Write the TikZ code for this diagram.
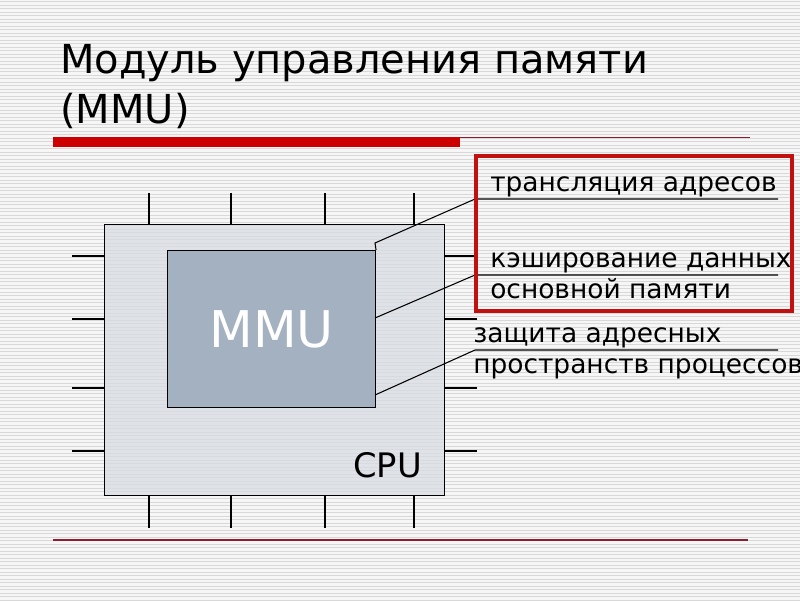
\documentclass[tikz,border=0pt]{standalone}
\usepackage{fontspec}
\setmainfont{DejaVu Sans}
\usetikzlibrary{positioning}

\definecolor{barred}{RGB}{204,0,0}
\definecolor{boxred}{RGB}{192,16,16}
\definecolor{rulered}{RGB}{140,30,50}
\definecolor{stripe}{RGB}{216,216,216}
\definecolor{paper}{RGB}{246,246,246}
\definecolor{cpufill}{RGB}{216,220,227}
\definecolor{mmufill}{RGB}{163,177,192}

\begin{document}
\begin{tikzpicture}[
    x=0.025cm, y=-0.025cm,
    chip/.style={draw, line width=0.7pt, fill=cpufill, fill opacity=0.75, text opacity=1},
    mmubox/.style={draw, line width=0.7pt, fill=mmufill},
    pin/.style={line width=1.4pt},
    callout/.style={line width=0.75pt},
    label/.style={font=\fontsize{18.8}{22}\selectfont, anchor=base west, inner sep=0pt},
    title/.style={font=\fontsize{28.4}{34}\selectfont, anchor=base west, inner sep=0pt}
]
\useasboundingbox (0,0) rectangle (800,600);
\fill[paper] (0,0) rectangle (800,600);
\foreach \i in {0,...,171}
    \draw[stripe, line width=0.7pt] (0,\i*3.5+1.5) -- (800,\i*3.5+1.5);

% title and rules
\node[title] (title1) at (60,73) {Модуль управления памяти};
\node[title] (title2) at (60,123) {(MMU)};
\fill[barred] (53,137) rectangle (460,147);
\draw[rulered, line width=0.8pt] (460,137.5) -- (750,137.5);
\draw[rulered, line width=0.8pt] (53,540) -- (748,540);

% pins
\foreach \x in {149,231,325,414} {
    \draw[pin] (\x,193) -- (\x,224);
    \draw[pin] (\x,495) -- (\x,528);
}
\foreach \y in {256,319,388,451} {
    \draw[pin] (72,\y) -- (104,\y);
    \draw[pin] (444,\y) -- (477,\y);
}

% processor and mmu
\node[chip, minimum width=8.5cm, minimum height=6.775cm, anchor=north west] (cpu) at (104,224) {};
\node[mmubox, minimum width=5.2cm, minimum height=3.925cm, anchor=north west] (mmu) at (167,250) {};
\node[text=white, font=\fontsize{36}{40}\selectfont] (mmutext) at (mmu.center) {MMU};
\node[font=\fontsize{24}{28}\selectfont, anchor=base east, inner sep=0pt] (cputext) at (422,477) {CPU};

% callouts
\coordinate (c1) at (375,243);
\coordinate (c2) at (375,318);
\coordinate (c3) at (375,395);
\coordinate (u1) at (475,199);
\coordinate (u2) at (475,275);
\coordinate (u3) at (475,350);
\draw[callout] (mmu.north east) -- (c1) -- (u1) -- (778,199);
\draw[callout] (c2) -- (u2) -- (778,275);
\draw[callout] (c3) -- (u3) -- (778,350);

\node[label] (trans) at (490,191) {трансляция адресов};
\node[label] (cache1) at (490,267) {кэширование данных};
\node[label] (cache2) at (490,298) {основной памяти};
\node[label] (prot1) at (473,342) {защита адресных};
\node[label] (prot2) at (473,373) {пространств процессов};

\draw[boxred, line width=2.2pt] (476,156) rectangle (792,311);
\end{tikzpicture}
\end{document}
